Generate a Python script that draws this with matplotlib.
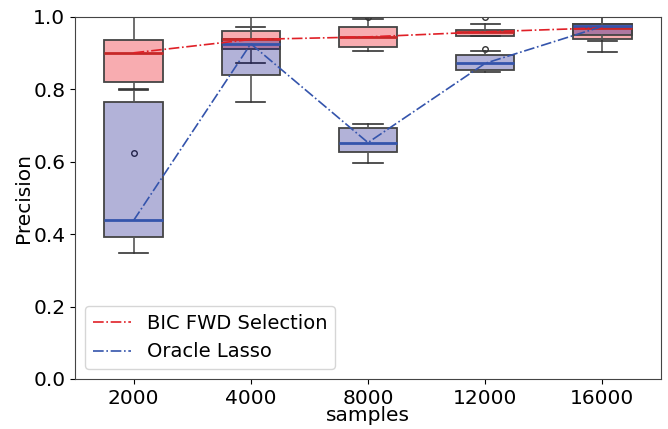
import numpy as np
import matplotlib
matplotlib.use("Agg")
import matplotlib.pyplot as plt

samples = ["2000", "4000", "8000", "12000", "16000"]

# BIC forward selection precision summary per sample size
bic_low = [0.798, 0.872, 0.905, 0.947, 0.904]
bic_q1 = [0.820, 0.912, 0.916, 0.948, 0.938]
bic_med = [0.901, 0.938, 0.945, 0.959, 0.970]
bic_q3 = [0.936, 0.962, 0.971, 0.963, 0.980]
bic_high = [1.000, 0.972, 0.995, 0.981, 1.000]
bic_fliers = [[0.625], [], [1.0], [0.912, 1.0], []]

# Oracle lasso precision summary per sample size
lasso_low = [0.348, 0.764, 0.598, 0.847, 0.934]
lasso_q1 = [0.393, 0.840, 0.628, 0.854, 0.950]
lasso_med = [0.438, 0.926, 0.653, 0.872, 0.974]
lasso_q3 = [0.764, 0.938, 0.692, 0.895, 0.980]
lasso_high = [0.800, 1.000, 0.703, 0.905, 1.000]
lasso_fliers = [[], [], [], [], []]


def make_stats(low, q1, med, q3, high, fliers):
    return [dict(whislo=a, q1=b, med=c, q3=d, whishi=e, fliers=f)
            for a, b, c, d, e, f in zip(low, q1, med, q3, high, fliers)]


plt.rcParams["font.family"] = "DejaVu Sans"
fig = plt.figure(figsize=(6.68, 4.29), dpi=100)
ax = fig.add_axes([0.1123, 0.1166, 0.8772, 0.8438])

pos = np.arange(1, len(samples) + 1)
series = [
    (make_stats(bic_low, bic_q1, bic_med, bic_q3, bic_high, bic_fliers), bic_med,
     (0.93, 0.05, 0.1, 0.34), "#c62828", "#e02027", "BIC FWD Selection"),
    (make_stats(lasso_low, lasso_q1, lasso_med, lasso_q3, lasso_high, lasso_fliers), lasso_med,
     (0.0, 0.0, 0.5, 0.3), "#3454ac", "#3454ac", "Oracle Lasso"),
]

for stats, med, face, medc, linec, label in series:
    ax.bxp(stats, positions=pos, widths=0.5, patch_artist=True,
           boxprops=dict(facecolor=face, edgecolor="#444444", linewidth=1.3),
           medianprops=dict(color=medc, linewidth=2),
           whiskerprops=dict(color="#555555", linewidth=1.2),
           capprops=dict(color="#333333", linewidth=1.2),
           flierprops=dict(marker="o", markersize=4, markerfacecolor="none",
                           markeredgecolor="#333333"))

for stats, med, face, medc, linec, label in series:
    ax.plot(pos, med, linestyle="-.", color=linec, linewidth=1.2, label=label, zorder=5)

ax.set_xlim(0.5, 5.5)
ax.set_ylim(0, 1.0)
ax.set_xticks(pos)
ax.set_xticklabels(samples)
ax.set_yticks(np.arange(0, 1.01, 0.2))
ax.tick_params(labelsize=14.5)
ax.set_xlabel("samples", fontsize=14.5, labelpad=-1)
ax.set_ylabel("Precision", fontsize=14.5, labelpad=0)
for s in ax.spines.values():
    s.set_color("#444444")

ax.legend(loc="lower left", fontsize=14)

fig.savefig("out.png", dpi=100)
